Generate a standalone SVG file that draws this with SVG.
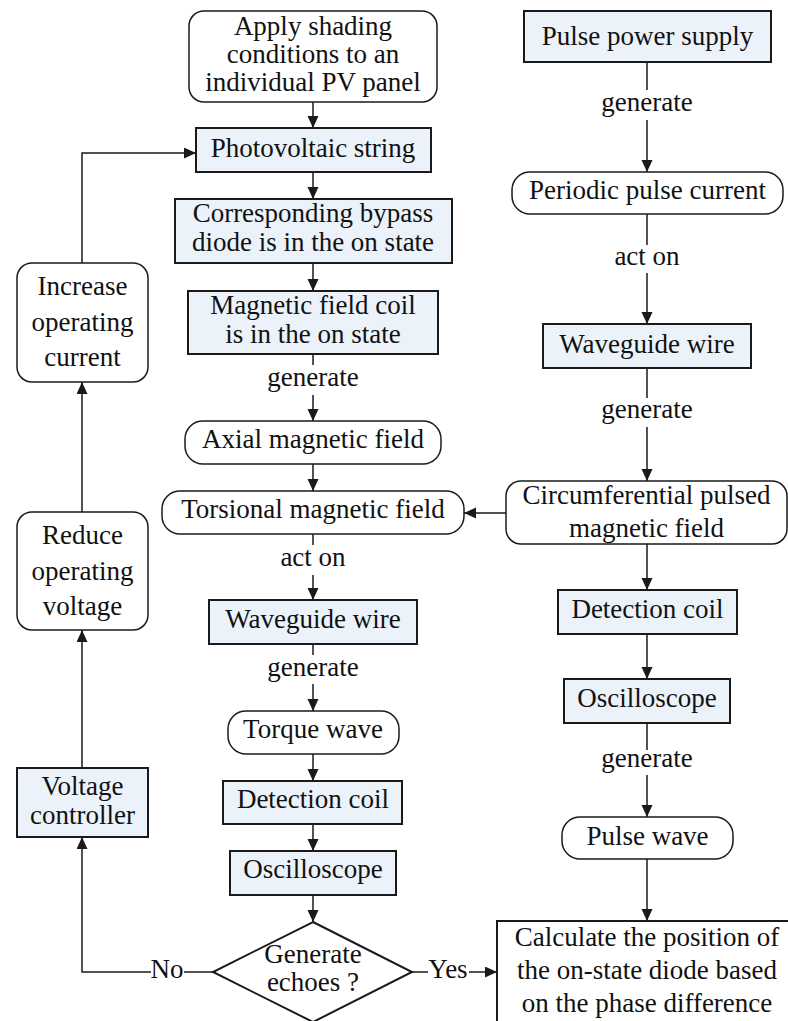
<svg xmlns="http://www.w3.org/2000/svg" width="788" height="1021" viewBox="0 0 788 1021">
<defs>
<style>
text{font-family:"Liberation Serif","Times New Roman",serif;font-size:27px;fill:#111;text-anchor:middle}
.box{fill:#EBF2FA;stroke:#1a1a1a;stroke-width:2}
.rnd{fill:#fff;stroke:#1a1a1a;stroke-width:1.5}
.plain{fill:#fff;stroke:#1a1a1a;stroke-width:2}
.ln{fill:none;stroke:#1a1a1a;stroke-width:1.5}
.ar{fill:none;stroke:#1a1a1a;stroke-width:1.5;marker-end:url(#ah)}
</style>
<marker id="ah" markerUnits="userSpaceOnUse" markerWidth="12" markerHeight="12" refX="12" refY="5.5" orient="auto">
<path d="M0,0 L12,5.5 L0,11 z" fill="#1a1a1a"/>
</marker>
</defs>
<rect width="788" height="1021" fill="#fff"/>

<g id="connectors">
<line class="ar" x1="313" y1="102" x2="313" y2="128"/>
<line class="ar" x1="313" y1="172" x2="313" y2="199"/>
<line class="ar" x1="313" y1="263" x2="313" y2="291"/>
<line class="ln" x1="313" y1="354" x2="313" y2="365"/>
<text x="313" y="386">generate</text>
<line class="ar" x1="313" y1="395" x2="313" y2="421"/>
<line class="ar" x1="313" y1="464" x2="313" y2="491"/>
<line class="ln" x1="313" y1="534" x2="313" y2="545"/>
<text x="313" y="566">act on</text>
<line class="ar" x1="313" y1="575" x2="313" y2="600"/>
<line class="ln" x1="313" y1="644" x2="313" y2="655"/>
<text x="313" y="676">generate</text>
<line class="ar" x1="313" y1="684" x2="313" y2="711"/>
<line class="ar" x1="313" y1="754" x2="313" y2="781"/>
<line class="ar" x1="313" y1="824" x2="313" y2="851"/>
<line class="ar" x1="313" y1="895" x2="313" y2="922"/>
<line class="ln" x1="213" y1="972" x2="184" y2="972"/>
<text x="167" y="978">No</text>
<polyline class="ar" points="151,972 82,972 82,837"/>
<line class="ln" x1="412" y1="972" x2="428" y2="972"/>
<text x="448" y="978">Yes</text>
<line class="ar" x1="469" y1="972" x2="497" y2="972"/>
<line class="ar" x1="82" y1="768" x2="82" y2="630"/>
<line class="ar" x1="82" y1="512" x2="82" y2="382"/>
<polyline class="ar" points="82,263 82,153 196,153"/>
<line class="ln" x1="647" y1="62" x2="647" y2="90"/>
<text x="647" y="111">generate</text>
<line class="ar" x1="647" y1="120" x2="647" y2="172"/>
<line class="ln" x1="647" y1="214" x2="647" y2="245"/>
<text x="647" y="265">act on</text>
<line class="ar" x1="647" y1="273" x2="647" y2="324"/>
<line class="ln" x1="647" y1="368" x2="647" y2="398"/>
<text x="647" y="418">generate</text>
<line class="ar" x1="647" y1="427" x2="647" y2="481"/>
<line class="ar" x1="506" y1="513" x2="464" y2="513"/>
<line class="ar" x1="647" y1="544" x2="647" y2="590"/>
<line class="ar" x1="647" y1="634" x2="647" y2="679"/>
<line class="ln" x1="647" y1="723" x2="647" y2="750"/>
<text x="647" y="767">generate</text>
<line class="ar" x1="647" y1="775" x2="647" y2="817"/>
<line class="ar" x1="647" y1="859" x2="647" y2="921"/>
</g>

<g id="n_apply"><rect class="rnd" x="189" y="11" width="248" height="91" rx="15"/>
<text x="313" y="35">Apply shading</text><text x="313" y="63">conditions to an</text><text x="313" y="91">individual PV panel</text></g>
<g id="n_pv"><rect class="box" x="196" y="128" width="235" height="44"/><text x="313" y="157">Photovoltaic string</text></g>
<g id="n_bypass"><rect class="box" x="175" y="199" width="277" height="64"/>
<text x="313" y="222">Corresponding bypass</text><text x="313" y="251">diode is in the on state</text></g>
<g id="n_coil"><rect class="box" x="188" y="291" width="250" height="63"/>
<text x="313" y="314">Magnetic field coil</text><text x="313" y="343">is in the on state</text></g>
<g id="n_axial"><rect class="rnd" x="185" y="421" width="256" height="43" rx="18"/><text x="313" y="448">Axial magnetic field</text></g>
<g id="n_torsional"><rect class="rnd" x="162" y="491" width="302" height="43" rx="18"/><text x="313" y="518">Torsional magnetic field</text></g>
<g id="n_wg"><rect class="box" x="209" y="600" width="208" height="44"/><text x="313" y="628">Waveguide wire</text></g>
<g id="n_torque"><rect class="rnd" x="228" y="711" width="171" height="43" rx="18"/><text x="313" y="738">Torque wave</text></g>
<g id="n_det"><rect class="box" x="223" y="781" width="179" height="43"/><text x="313" y="808">Detection coil</text></g>
<g id="n_osc"><rect class="box" x="230" y="851" width="166" height="44"/><text x="313" y="878">Oscilloscope</text></g>
<g id="n_echo"><polygon class="plain" points="313,922 412,972 313,1022 213,972"/>
<text x="313" y="963">Generate</text><text x="313" y="991">echoes ?</text></g>

<g id="n_inc"><rect class="rnd" x="17" y="263" width="131" height="119" rx="15"/>
<text x="82.5" y="295">Increase</text><text x="82.5" y="331">operating</text><text x="82.5" y="366">current</text></g>
<g id="n_red"><rect class="rnd" x="17" y="512" width="131" height="118" rx="15"/>
<text x="82.5" y="544">Reduce</text><text x="82.5" y="580">operating</text><text x="82.5" y="615">voltage</text></g>
<g id="n_vc"><rect class="box" x="17" y="768" width="131" height="69"/>
<text x="82.5" y="795">Voltage</text><text x="82.5" y="824">controller</text></g>

<g id="n_pps"><rect class="box" x="524" y="11" width="247" height="51"/><text x="647.5" y="45">Pulse power supply</text></g>
<g id="n_ppc"><rect class="rnd" x="512" y="172" width="271" height="42" rx="18"/><text x="647.5" y="199">Periodic pulse current</text></g>
<g id="n_wg2"><rect class="box" x="543" y="324" width="208" height="44"/><text x="647" y="353">Waveguide wire</text></g>
<g id="n_circ"><rect class="rnd" x="506" y="481" width="281" height="63" rx="15"/>
<text x="646.5" y="504">Circumferential pulsed</text><text x="646.5" y="537">magnetic field</text></g>
<g id="n_det2"><rect class="box" x="558" y="590" width="179" height="44"/><text x="647.5" y="618">Detection coil</text></g>
<g id="n_osc2"><rect class="box" x="564" y="679" width="166" height="44"/><text x="647" y="707">Oscilloscope</text></g>
<g id="n_pw"><rect class="rnd" x="562" y="817" width="171" height="42" rx="18"/><text x="647.5" y="845">Pulse wave</text></g>
<g id="n_calc"><rect class="plain" x="497" y="921" width="300" height="110"/>
<text x="647" y="946">Calculate the position of</text><text x="647" y="979">the on-state diode based</text><text x="647" y="1012">on the phase difference</text></g>
</svg>
